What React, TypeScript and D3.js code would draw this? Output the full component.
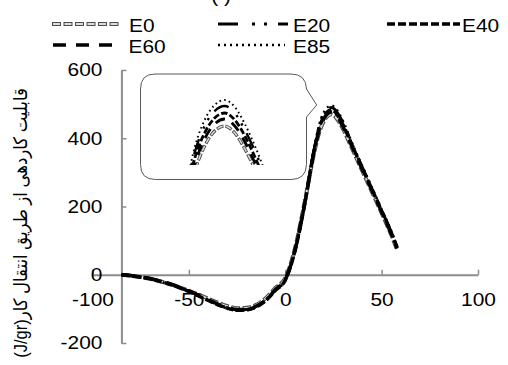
import React, { useEffect, useRef } from "react";
import * as d3 from "d3";

// temperature-like x values shared by all series
const xValues = [
  -85, -80, -75, -70, -65, -60, -55, -50, -45, -40, -35, -30, -25, -20, -15,
  -10, -5, 0, 5, 10, 15, 18, 20, 22, 24, 26, 28, 30, 35, 40, 45, 50, 55, 58,
];

const e0Values = [
  0, -3, -7, -12, -19, -27, -37, -47, -58, -70, -82, -92, -98, -97, -88, -68,
  -38, -10, 76, 210, 358, 424, 450, 465, 470, 463, 447, 427, 366, 304, 243,
  181, 117, 74,
];
const e20Values = [
  0, -3, -7, -12, -19, -27, -37, -48, -61, -74, -87, -97, -103, -102, -93,
  -74, -44, -15, 70, 205, 367, 443, 470, 485, 490, 483, 466, 445, 378, 314,
  252, 189, 125, 82,
];
const e40Values = [
  0, -3, -7, -12, -19, -28, -38, -49, -62, -75, -88, -98, -104, -103, -94,
  -75, -45, -16, 69, 204, 365, 437, 463, 478, 483, 476, 460, 439, 375, 312,
  250, 187, 123, 80,
];
const e60Values = [
  0, -2, -6, -11, -18, -26, -36, -47, -60, -73, -86, -96, -102, -101, -92,
  -73, -43, -14, 71, 206, 362, 431, 457, 472, 477, 470, 454, 433, 371, 308,
  247, 184, 120, 77,
];
const e85Values = [
  0, -3, -8, -13, -20, -28, -38, -49, -62, -75, -89, -99, -105, -104, -95,
  -76, -46, -17, 68, 203, 370, 448, 476, 491, 496, 489, 472, 450, 382, 318,
  256, 192, 128, 85,
];

const seriesNames = ["E0", "E20", "E40", "E60", "E85"];
const seriesValues = [e0Values, e20Values, e40Values, e60Values, e85Values];

const xTicks = [-100, -50, 0, 50, 100];
const yTicks = [-200, 0, 200, 400, 600];
const yAxisCross = -85;
const yLabel = "قابلیت کاردهی از طریق انتقال کار(J/gr)";

const FONT = "'Liberation Sans', Arial, 'DejaVu Sans', sans-serif";
const SX = 1.13; // text in the original is stretched horizontally

type Style = { dash: string; width: number; hollow?: boolean };
const styles: Record<string, Style> = {
  E0: { dash: "9,2.5", width: 4, hollow: true },
  E20: { dash: "20,14,3,9,3,11", width: 3 },
  E40: { dash: "8,3", width: 3.5 },
  E60: { dash: "13,10", width: 3.5 },
  E85: { dash: "2,4", width: 2.4 },
};

const legendItems = [
  { name: "E0", x1: 52, x2: 121, y: 24, tx: 129 },
  { name: "E20", x1: 218, x2: 288, y: 24, tx: 293 },
  { name: "E40", x1: 387, x2: 460, y: 24, tx: 462 },
  { name: "E60", x1: 53, x2: 113, y: 45, tx: 128.5 },
  { name: "E85", x1: 218, x2: 285, y: 45, tx: 293 },
];

const StyledPath: React.FC<{ d: string; name: string; scale?: number }> = ({
  d,
  name,
  scale = 1,
}) => {
  const s = styles[name];
  const dash = s.dash
    .split(",")
    .map((v) => +v * scale)
    .join(",");
  if (s.hollow) {
    return (
      <g fill="none">
        <path d={d} stroke="#4d4d4d" strokeWidth={s.width * scale} strokeDasharray={dash} />
        <path
          d={d}
          stroke="#dcdcdc"
          strokeWidth={1.8 * scale}
          strokeDasharray={`${7 * scale},${4.5 * scale}`}
          strokeDashoffset={-1 * scale}
        />
      </g>
    );
  }
  return (
    <path
      d={d}
      fill="none"
      stroke="#000"
      strokeWidth={s.width * scale}
      strokeDasharray={dash}
    />
  );
};

const App: React.FC = () => {
  const xAxisRef = useRef<SVGGElement>(null);
  const yAxisRef = useRef<SVGGElement>(null);

  const x = d3.scaleLinear().domain([-100, 100]).range([92.5, 478]);
  const y = d3.scaleLinear().domain([-200, 600]).range([343, 70]);

  // magnified peak inside the callout
  const ix = d3.scaleLinear().domain([16.5, 32]).range([187, 265]);
  const iy = d3.scaleLinear().domain([430, 498]).range([166, 98]);

  const line = d3
    .line<number>()
    .x((_, i) => x(xValues[i]))
    .y((d) => y(d))
    .curve(d3.curveMonotoneX);

  const insetLine = d3
    .line<[number, number]>()
    .x((d) => ix(d[0]))
    .y((d) => iy(d[1]))
    .curve(d3.curveMonotoneX);

  useEffect(() => {
    if (!xAxisRef.current || !yAxisRef.current) return;

    const gx = d3.select(xAxisRef.current);
    gx.selectAll("*").remove();
    gx.call(
      d3
        .axisBottom(x)
        .tickValues(xTicks)
        .tickSizeInner(-5)
        .tickSizeOuter(0)
        .tickPadding(18)
        .tickFormat((d) => String(d))
    );

    const gy = d3.select(yAxisRef.current);
    gy.selectAll("*").remove();
    gy.call(
      d3
        .axisLeft(y)
        .tickValues(yTicks)
        .tickSizeInner(-5)
        .tickSizeOuter(0)
        .tickPadding(18)
        .tickFormat((d) => String(d))
    );

    [gx, gy].forEach((g) => {
      g.attr("font-family", FONT).attr("font-size", 18.5);
      g.select(".domain").attr("stroke", "#8c8c8c").attr("stroke-width", 2);
      g.selectAll(".tick line").attr("stroke", "#8c8c8c").attr("stroke-width", 1.5);
      g.selectAll(".tick text").attr("fill", "#000");
    });
    gx.selectAll(".tick text").attr("transform", `scale(${SX},1)`);
    gy.selectAll(".tick text")
      .attr("x", -19 / SX)
      .attr("transform", `scale(${SX},1)`);
  }, []);

  return (
    <svg
      width={508}
      height={365}
      style={{ position: "absolute", left: 0, top: 0, background: "#fff" }}
    >
      <defs>
        <clipPath id="insetClip">
          <rect x={141} y={75} width={165} height={90} />
        </clipPath>
      </defs>

      {/* partial title at the very top */}
      <text
        transform={`translate(221,1.5) scale(${SX},1)`}
        textAnchor="middle"
        fontFamily={FONT}
        fontSize={18.5}
      >
        (   )
      </text>

      {/* legend */}
      {legendItems.map((it) => (
        <g key={it.name}>
          <StyledPath d={`M${it.x1},${it.y}H${it.x2}`} name={it.name} />
          <text
            transform={`translate(${it.tx},${it.y + 7.5}) scale(${SX},1)`}
            fontFamily={FONT}
            fontSize={18.5}
          >
            {it.name}
          </text>
        </g>
      ))}

      {/* axes */}
      <g ref={xAxisRef} transform={`translate(0,${y(0)})`} />
      <g ref={yAxisRef} transform={`translate(${x(yAxisCross)},0)`} />

      {/* callout box */}
      <path
        d="M155,74 H291 Q306,74 306.5,89 L316.7,105 L306.5,117 V164.5 Q306,179.5 291,179.5 H155.5 Q140.5,179.5 140.5,164.5 V89 Q140.5,74 155,74 Z"
        fill="#fff"
        stroke="#595959"
        strokeWidth={1}
      />

      {/* magnified peaks */}
      <g clipPath="url(#insetClip)">
        {seriesNames.map((name, k) => {
          const pts = xValues
            .map((xv, i) => [xv, seriesValues[k][i]] as [number, number])
            .filter((p) => p[0] >= 10 && p[0] <= 40);
          return <StyledPath key={name} d={insetLine(pts) || ""} name={name} scale={0.8} />;
        })}
      </g>

      {/* main curves */}
      {seriesNames.map((name, k) => (
        <StyledPath key={name} d={line(seriesValues[k]) || ""} name={name} />
      ))}

      {/* y axis title */}
      <text
        transform={`translate(21,223) rotate(-90) scale(1,${SX})`}
        textAnchor="middle"
        dominantBaseline="central"
        direction="rtl"
        fontFamily={FONT}
        fontSize={16.5}
      >
        {yLabel}
      </text>
    </svg>
  );
};

export default App;
